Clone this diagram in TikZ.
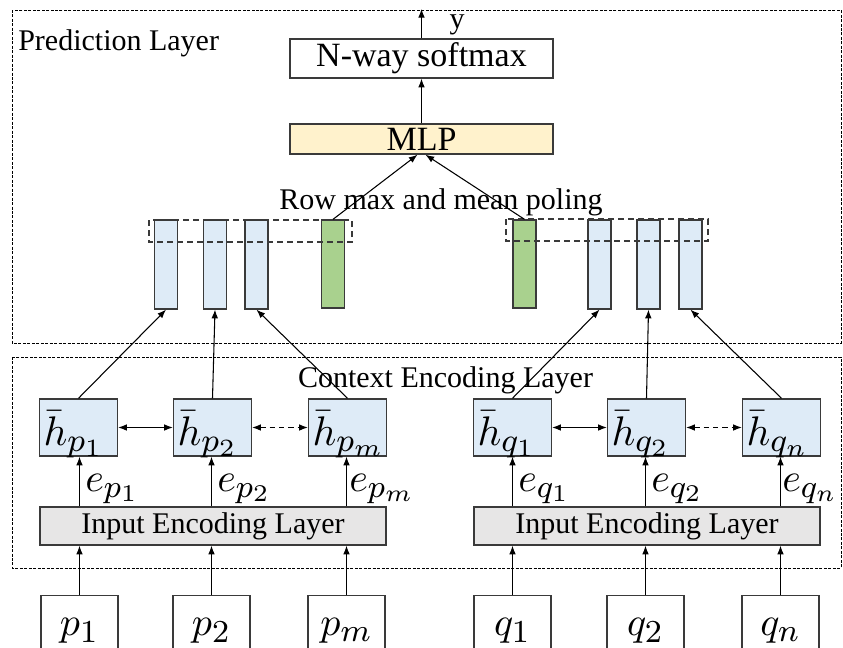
\documentclass[tikz,border=0pt]{standalone}
\usepackage{graphicx}
\usepackage{fontspec}
\setmainfont{Liberation Serif}
\DeclareMathSizes{10}{10}{8}{6}
\usetikzlibrary{arrows.meta}
\definecolor{barblue}{HTML}{DEEBF7}
\definecolor{bargreen}{HTML}{A9D18E}
\definecolor{mlpyellow}{HTML}{FFF2CC}
\definecolor{ingray}{HTML}{E7E6E6}
\definecolor{edge}{HTML}{3A3A3A}
\newcommand{\scaledmath}[2]{\scalebox{#1}{$#2$}}
\begin{document}
\begin{tikzpicture}[x=0.75pt,y=-0.75pt,
  frame/.style={draw=black,line width=0.75pt,dash pattern=on 2.25pt off 1.1pt},
  selbox/.style={draw=edge,line width=0.8pt,dash pattern=on 4.5pt off 3pt},
  lbl/.style={font=\fontsize{22.5}{27}\selectfont,inner sep=0pt},
  bigbox/.style={draw=edge,line width=1.1pt,inner sep=0pt,minimum width=197.25pt,font=\fontsize{25.5}{30}\selectfont},
  bluebar/.style={draw=edge,line width=1pt,fill=barblue,inner sep=0pt,minimum width=17.25pt,minimum height=66.75pt},
  greenbar/.style={draw=edge,line width=1pt,fill=bargreen,inner sep=0pt,minimum width=17.25pt,minimum height=66pt},
  hbox/.style={draw=edge,line width=1.1pt,fill=barblue,inner xsep=3pt,inner ysep=0pt,text width=52.5pt,align=left,text height=35pt,text depth=7.75pt,font=\fontsize{10}{12}\selectfont},
  inbox/.style={draw=edge,line width=1.1pt,fill=ingray,inner sep=0pt,minimum width=259.5pt,minimum height=28.5pt,font=\fontsize{22.5}{27}\selectfont},
  pbox/.style={draw=edge,line width=1.1pt,anchor=north,inner xsep=0pt,inner ysep=0pt,minimum width=57.75pt,text height=30pt,text depth=45pt,font=\fontsize{10}{12}\selectfont},
  elbl/.style={anchor=base west,inner sep=0pt,font=\fontsize{10}{12}\selectfont},
  arr/.style={-{Latex[length=6.5pt,width=5pt]},line width=0.8pt},
  darr/.style={{Latex[length=6.5pt,width=5pt]}-{Latex[length=6.5pt,width=5pt]},line width=0.8pt},
  ddarr/.style={darr,dash pattern=on 4pt off 3pt}
]
\path[use as bounding box] (0,0) rectangle (843,647);
\clip (0,0) rectangle (843,647);

% frames
\draw[frame] (12,10) rectangle (841,343);
\draw[frame] (12,357) rectangle (841,568);

% prediction layer
\node[lbl,anchor=base west] (predlbl) at (18,50) {Prediction Layer};
\node[bigbox,minimum height=29.25pt] (soft) at (421.5,58.5) {N-way softmax};
\node[bigbox,fill=mlpyellow,minimum height=22.5pt] (mlp) at (421.5,139) {MLP};
\node[lbl,anchor=base] (ylbl) at (457,28) {y};
\coordinate (ytop) at (421.5,9);
\node[lbl,anchor=base] (rowlbl) at (441,209) {Row max and mean poling};

% bars
\node[bluebar] (b1) at (166,264.5) {};
\node[bluebar] (b2) at (215,264.5) {};
\node[bluebar] (b3) at (256.5,264.5) {};
\node[greenbar] (gL) at (333,264) {};
\node[greenbar] (gR) at (524.5,264) {};
\node[bluebar] (b4) at (599.5,264.5) {};
\node[bluebar] (b5) at (648.5,264.5) {};
\node[bluebar] (b6) at (690.5,264.5) {};
\draw[selbox] (149,220) rectangle (352,242);
\draw[selbox] (506,219) rectangle (708,241);

% context encoding layer
\node[lbl,anchor=base] (ctxlbl) at (445.5,387) {Context Encoding Layer};
\node[hbox] (hp1) at (78.5,427.5) {\scaledmath{3.1}{\bar{h}_{p_1}}};
\node[hbox] (hp2) at (212.5,427.5) {\scaledmath{3.1}{\bar{h}_{p_2}}};
\node[hbox] (hpm) at (347.5,427.5) {\scaledmath{3.1}{\bar{h}_{p_m}}};
\node[hbox] (hq1) at (512.5,427.5) {\scaledmath{3.1}{\bar{h}_{q_1}}};
\node[hbox] (hq2) at (646.5,427.5) {\scaledmath{3.1}{\bar{h}_{q_2}}};
\node[hbox] (hqn) at (781.5,427.5) {\scaledmath{3.1}{\bar{h}_{q_n}}};

\node[inbox] (inP) at (213,526) {Input Encoding Layer};
\node[inbox] (inQ) at (647,526) {Input Encoding Layer};

% inputs
\node[pbox] (p1) at (79.5,595) {\scaledmath{3}{p_1}};
\node[pbox] (p2) at (211.5,595) {\scaledmath{3}{p_2}};
\node[pbox] (pm) at (346.5,595) {\scaledmath{3}{p_m}};
\node[pbox] (q1) at (512.5,595) {\scaledmath{3}{q_1}};
\node[pbox] (q2) at (645.5,595) {\scaledmath{3}{q_2}};
\node[pbox] (qn) at (780.5,595) {\scaledmath{3}{q_n}};

% e labels
\node[elbl] (ep1) at (85,491) {\scaledmath{3}{e_{p_1}}};
\node[elbl] (ep2) at (217,491) {\scaledmath{3}{e_{p_2}}};
\node[elbl] (epm) at (349,491) {\scaledmath{3}{e_{p_m}}};
\node[elbl] (eq1) at (518,491) {\scaledmath{3}{e_{q_1}}};
\node[elbl] (eq2) at (651,491) {\scaledmath{3}{e_{q_2}}};
\node[elbl] (eqn) at (782,491) {\scaledmath{3}{e_{q_n}}};

% arrows: inputs -> input encoding -> h
\foreach \p/\h/\i in {p1/hp1/inP,p2/hp2/inP,pm/hpm/inP,q1/hq1/inQ,q2/hq2/inQ,qn/hqn/inQ}{
  \draw[arr] (\p.north) -- (\p.north |- \i.south);
  \draw[arr] (\p.north |- \i.north) -- (\p.north |- \h.south);
}
% h <-> h
\draw[darr] (hp1.east) -- (hp2.west);
\draw[ddarr] (hp2.east) -- (hpm.west);
\draw[darr] (hq1.east) -- (hq2.west);
\draw[ddarr] (hq2.east) -- (hqn.west);
% h -> bars
\draw[arr] (hp1.north) -- (b1.south);
\draw[arr] (hp2.north) -- (b2.south);
\draw[arr] (hpm.north) -- (b3.south);
\draw[arr] (hq1.north) -- (b4.south);
\draw[arr] (hq2.north) -- (b5.south);
\draw[arr] (hqn.north) -- (b6.south);
% pooling -> MLP
\draw[arr] (gL.north) -- ([xshift=-3pt]mlp.south);
\draw[arr] (gR.north) -- ([xshift=3pt]mlp.south);
\draw[arr] (mlp.north) -- (soft.south);
\draw[arr] (soft.north) -- (ytop);
\end{tikzpicture}
\end{document}
